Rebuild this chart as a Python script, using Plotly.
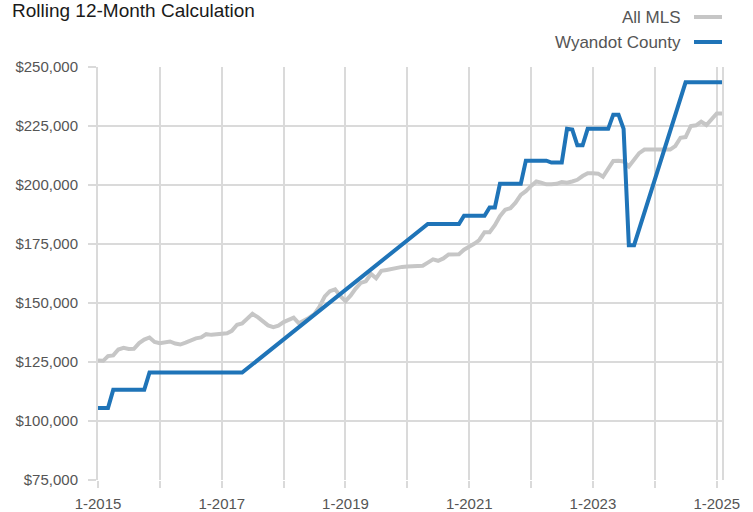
import pandas as pd
import plotly.graph_objects as go

# Monthly, Jan 2015 .. Feb 2025
months = pd.date_range("2015-01-01", periods=122, freq="MS")

all_mls = [
    125600, 125500, 127500, 127800, 130300, 131000, 130500, 130600, 133000, 134500,
    135400, 133500, 133000, 133500, 133700, 132800, 132400, 133200, 134200, 135000,
    135400, 136800, 136500, 136800, 137300, 137200, 138200, 140800, 141300, 143500,
    145400, 144000, 142000, 140500, 139800, 140400, 141900, 143000, 143800, 141400,
    142400, 143800, 145300, 148500, 152800, 155000, 155800, 153000, 150800, 153200,
    156000, 158500, 159200, 162300, 160500, 163600, 164000, 164500, 165000, 165300,
    165500, 165600, 165600, 165800, 167100, 168500, 167900, 168900, 170600, 170600,
    170700, 172600, 173700, 175200, 176700, 180000, 180000, 183000, 186800, 189500,
    190200, 192500, 195800, 197400, 199600, 201500, 201000, 200300, 200300, 200500,
    201300, 201000, 201500, 202200, 203800, 205000, 205000, 204800, 203500, 207000,
    210200, 210300, 210000, 207800, 210500, 213500, 215000, 215000, 215000, 214800,
    215000, 215000, 216500, 220000, 220300, 225000, 225300, 226800, 225400, 228000,
    230300, 230300,
]

N = None
wyandot = [
    105500, 105500, 105500, 113200, 113200, 113200, 113200, 113200, 113200, 113200,
    120500, 120500, 120500, 120500, 120500, 120500, 120500, 120500, 120500, 120500,
    120500, 120500, 120500, 120500, 120500, 120500, 120500, 120500, 120500, N,
    N, N, N, N, N, N, N, N, N, N,
    N, N, N, N, N, N, N, N, N, N,
    N, N, N, N, N, N, N, N, N, N,
    N, N, N, N, 183500, 183500, 183500, 183500, 183500, 183500,
    183500, 187000, 187000, 187000, 187000, 187000, 190500, 190500, 200500, 200500,
    200500, 200500, 200500, 210300, 210300, 210300, 210300, 210300, 209500, 209500,
    209500, 223800, 223500, 216800, 216800, 223800, 223800, 223800, 223800, 223800,
    229800, 229800, 223800, 174500, 174500, N, N, N, N, N,
    N, N, N, N, 243500, 243500, 243500, 243500, 243500, 243500,
    243500, 243500,
]

series_names = ["All MLS", "Wyandot County"]
series_colors = ["#c6c6c6", "#1f74b8"]

year_ticks = pd.date_range("2015-01-01", "2025-01-01", freq="YS")
year_labels = [f"1-{d.year}" if (d.year - 2015) % 2 == 0 else "" for d in year_ticks]

y_ticks = list(range(75000, 250001, 25000))

FONT = "Liberation Sans, Arial, sans-serif"

fig = go.Figure()
fig.add_trace(go.Scatter(x=months, y=all_mls, mode="lines", name=series_names[0],
                         line=dict(color=series_colors[0], width=4)))
fig.add_trace(go.Scatter(x=months, y=wyandot, mode="lines", name=series_names[1],
                         connectgaps=True,
                         line=dict(color=series_colors[1], width=4)))

W, H = 753, 512
L, T = 98, 67
R = W - L - 624
B = H - T - 413
pw, ph = W - L - R, H - T - B

def px_to_paper_x(px):
    return (px - L) / pw

def px_to_paper_y(py):
    return (H - B - py) / ph

# custom legend (text left of the line sample)
for i, (name, col) in enumerate(zip(series_names, series_colors)):
    py = 17 + 25 * i
    fig.add_annotation(x=px_to_paper_x(683), y=px_to_paper_y(py), xref="paper", yref="paper",
                       text=name, showarrow=False, xanchor="right", yanchor="middle",
                       font=dict(family=FONT, size=17, color="#555555"))
    fig.add_shape(type="line", xref="paper", yref="paper",
                  x0=px_to_paper_x(694), x1=px_to_paper_x(722),
                  y0=px_to_paper_y(py), y1=px_to_paper_y(py),
                  line=dict(color=col, width=4))

# title
fig.add_annotation(x=px_to_paper_x(10), y=px_to_paper_y(11), xref="paper", yref="paper",
                   text="Rolling 12-Month Calculation", showarrow=False,
                   xanchor="left", yanchor="middle",
                   font=dict(family=FONT, size=19, color="#1a1a1a"))

fig.update_layout(
    width=W, height=H,
    margin=dict(l=L, r=R, t=T, b=B, autoexpand=False),
    paper_bgcolor="white", plot_bgcolor="white",
    showlegend=False,
    font=dict(family=FONT),
)
fig.update_xaxes(
    range=[months[0], months[-1]],
    tickvals=year_ticks, ticktext=year_labels,
    showgrid=True, gridcolor="#dadada", gridwidth=2,
    ticks="outside", ticklen=7, tickcolor="#dadada", tickwidth=2,
    tickfont=dict(family=FONT, size=15, color="#555555"),
    ticklabelstandoff=3,
    showline=False, zeroline=False, automargin=False,
)
fig.update_yaxes(
    range=[75000, 250000],
    tickvals=y_ticks, tickformat="$,.0f",
    showgrid=True, gridcolor="#dadada", gridwidth=2,
    ticks="outside", ticklen=8, tickcolor="#dadada", tickwidth=2,
    tickfont=dict(family=FONT, size=15, color="#555555"),
    ticklabelstandoff=7,
    showline=True, mirror=True, linecolor="#dadada", linewidth=2,
    zeroline=False, automargin=False,
)

fig.write_html("out.html", config={"displayModeBar": False},
               post_script="document.body.style.margin='0';")
